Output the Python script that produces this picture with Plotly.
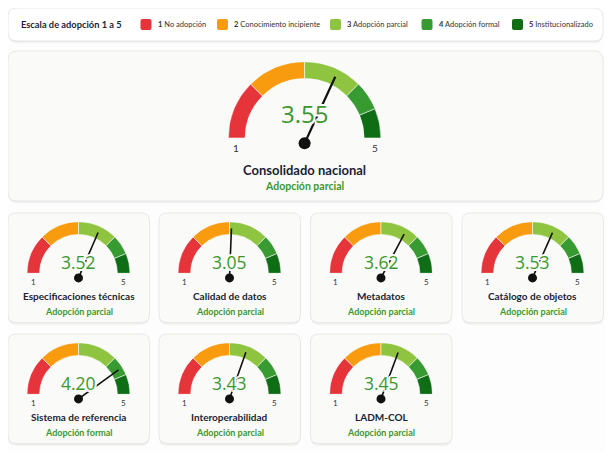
import plotly.graph_objects as go

# Adoption scale and scores
LEVEL_NAMES = ["No adopción", "Conocimiento incipiente", "Adopción parcial",
               "Adopción formal", "Institucionalizado"]
LEVEL_COLORS = ["#e5343a", "#f89b0f", "#8fc440", "#389b32", "#0f6d15"]
BAND_EDGES = [1, 2, 3, 4, 4.5, 5]

NATIONAL_LABEL = "Consolidado nacional"
NATIONAL_SCORE = 3.55

AREAS = ["Especificaciones técnicas", "Calidad de datos", "Metadatos",
         "Catálogo de objetos", "Sistema de referencia", "Interoperabilidad",
         "LADM-COL"]
SCORES = [3.52, 3.05, 3.62, 3.53, 4.20, 3.43, 3.45]

# the page body adds an 8px margin, so the figure is drawn 8px in
OFF = 8
W, H = 613 - 2 * OFF, 460 - 2 * OFF
FONT = "Lato"
NUM_FONT = "Open Sans"
GREEN_TXT = "#3c982e"
DARK_TXT = "#1b1f33"
CARD_BG = "#fafaf8"


def px(x):
    return (x - OFF) / W


def py(y):
    return 1 - (y - OFF) / H


def to_theta(v):
    return (v - BAND_EDGES[0]) / (BAND_EDGES[-1] - BAND_EDGES[0]) * 180


def level_of(v):
    return LEVEL_NAMES[min(int(v), len(LEVEL_NAMES)) - 1]


def rounded_rect(x0, y0, x1, y1, r):
    pts = [("M", [(x0 + r, y0)]), ("L", [(x1 - r, y0)]), ("Q", [(x1, y0), (x1, y0 + r)]),
           ("L", [(x1, y1 - r)]), ("Q", [(x1, y1), (x1 - r, y1)]), ("L", [(x0 + r, y1)]),
           ("Q", [(x0, y1), (x0, y1 - r)]), ("L", [(x0, y0 + r)]), ("Q", [(x0, y0), (x0 + r, y0)])]
    s = ""
    for cmd, ps in pts:
        s += cmd + " " + " ".join(f"{px(a):.5f},{py(b):.5f}" for a, b in ps) + " "
    return s + "Z"


fig = go.Figure()
shapes = []
annotations = []


def card(x0, y0, x1, y1, bg, r=8):
    shapes.append(dict(type="path", path=rounded_rect(x0, y0 + 2.5, x1, y1 + 2.5, r),
                       xref="paper", yref="paper", layer="below",
                       fillcolor="rgba(0,0,0,0.035)", line=dict(width=0)))
    shapes.append(dict(type="path", path=rounded_rect(x0, y0 + 1, x1, y1 + 1, r),
                       xref="paper", yref="paper", layer="below",
                       fillcolor="rgba(0,0,0,0.05)", line=dict(width=0)))
    shapes.append(dict(type="path", path=rounded_rect(x0, y0, x1, y1, r),
                       xref="paper", yref="paper", layer="below",
                       fillcolor=bg, line=dict(color="#e8e8e5", width=1)))


def text(x, y, s, size, color, bold=False, shadow=None, family=FONT):
    f = dict(family=family, size=size, color=color, weight=700 if bold else 400)
    if shadow:
        f["shadow"] = shadow
    annotations.append(dict(x=px(x), y=py(y), xref="paper", yref="paper", text=s,
                            showarrow=False, xanchor="center", yanchor="middle", font=f))


polar_count = [0]


def new_polar(cx, cy, R):
    polar_count[0] += 1
    n = polar_count[0]
    pid = "polar" if n == 1 else f"polar{n}"
    fig.update_layout({pid: dict(
        domain=dict(x=[px(cx - R), px(cx + R)], y=[py(cy), py(cy - R)]),
        sector=[0, 180], bgcolor="rgba(0,0,0,0)", bargap=0,
        radialaxis=dict(visible=False, range=[0, 1]),
        angularaxis=dict(visible=False, direction="clockwise", rotation=180,
                         thetaunit="degrees"))})
    return pid


def gauge(value, cx, cy, R, inner, drop, dot, needle_w, big):
    pid = new_polar(cx, cy, R)
    mids = [to_theta((a + b) / 2) for a, b in zip(BAND_EDGES[:-1], BAND_EDGES[1:])]
    widths = [to_theta(b) - to_theta(a) for a, b in zip(BAND_EDGES[:-1], BAND_EDGES[1:])]
    fig.add_trace(go.Barpolar(theta=mids, width=widths, r=[1 - inner] * len(mids),
                              base=inner, marker=dict(color=LEVEL_COLORS,
                                                      line=dict(color="rgba(255,255,255,0.7)", width=0.8)),
                              subplot=pid, hoverinfo="skip", showlegend=False))
    # needle pivot sits a little below the arc centre
    pid2 = new_polar(cx, cy + drop, R)
    th = to_theta(value)
    fig.add_trace(go.Scatterpolar(r=[0, 0.96], theta=[th, th], mode="lines",
                                  line=dict(color="#111111", width=needle_w),
                                  cliponaxis=False, subplot=pid2, hoverinfo="skip",
                                  showlegend=False))
    fig.add_trace(go.Scatterpolar(r=[0], theta=[th], mode="markers",
                                  marker=dict(color="#111111", size=dot),
                                  cliponaxis=False, subplot=pid2, hoverinfo="skip",
                                  showlegend=False))
    halo = ", ".join(f"{a}px {b}px 0 {CARD_BG}" for a, b in
                     [(2, 0), (-2, 0), (0, 2), (0, -2), (1.5, 1.5), (-1.5, 1.5), (1.5, -1.5), (-1.5, -1.5)])
    band = R * (1 - inner) / 2
    if big:
        text(cx, cy - 25, f"{value:.2f}", 24, GREEN_TXT, shadow=halo, family=NUM_FONT)
        text(cx - R + band - 1, cy + 10, str(BAND_EDGES[0]), 10, "#333333")
        text(cx + R - band + 2, cy + 10, str(BAND_EDGES[-1]), 10, "#333333")
    else:
        text(cx, cy - 11.5, f"{value:.2f}", 17.5, GREEN_TXT, shadow=halo, family=NUM_FONT)
        text(cx - R + band, cy + 8.5, str(BAND_EDGES[0]), 8, "#333333")
        text(cx + R - band, cy + 8.5, str(BAND_EDGES[-1]), 8, "#333333")


# legend card
card(8, 8, 603, 41, "#ffffff", r=9)
text(71.5, 24.5, "Escala de adopción 1 a 5", 9.3, DARK_TXT, bold=True)
sw_x = [140.5, 217, 330, 421.5, 512]
for i, (name, col) in enumerate(zip(LEVEL_NAMES, LEVEL_COLORS)):
    x0 = sw_x[i]
    shapes.append(dict(type="path", path=rounded_rect(x0, 19, x0 + 11, 30, 2),
                       xref="paper", yref="paper", fillcolor=col, line=dict(width=0)))
    annotations.append(dict(x=px(x0 + 15), y=py(24.5), xref="paper", yref="paper",
                            text=f"<b>{i + 1}</b> {name}", showarrow=False,
                            xanchor="left", yanchor="middle",
                            font=dict(family=FONT, size=7.5, color="#333333")))

# national card
card(8, 51, 603, 201, CARD_BG, r=9)
gauge(NATIONAL_SCORE, 304.6, 138, 76.3, 0.78, 5.3, 12, 2.2, True)
text(304.6, 170, f"<b>{NATIONAL_LABEL}</b>", 13, DARK_TXT)
text(304.6, 186.5, level_of(NATIONAL_SCORE), 10.5, GREEN_TXT, bold=True)

# area cards
lefts = [8, 159, 310.5, 462]
tops = [213, 334]
for k, (area, score) in enumerate(zip(AREAS, SCORES)):
    x0 = lefts[k % 4]
    y0 = tops[k // 4]
    card(x0, y0, x0 + 141.5, y0 + 109.5, CARD_BG, r=8)
    cx, cy = x0 + 70.5, y0 + 60.3
    gauge(score, cx, cy, 51.5, 0.755, 4.6, 9, 1.6, False)
    text(cx, cy + 23, f"<b>{area}</b>", 10, DARK_TXT)
    text(cx, cy + 38.5, level_of(score), 9, GREEN_TXT, bold=True)

fig.update_layout(width=W, height=H, margin=dict(l=0, r=0, t=0, b=0),
                  paper_bgcolor="#fdfdfd", plot_bgcolor="#fdfdfd",
                  shapes=shapes, annotations=annotations, showlegend=False)

fig.write_html("out.html")
